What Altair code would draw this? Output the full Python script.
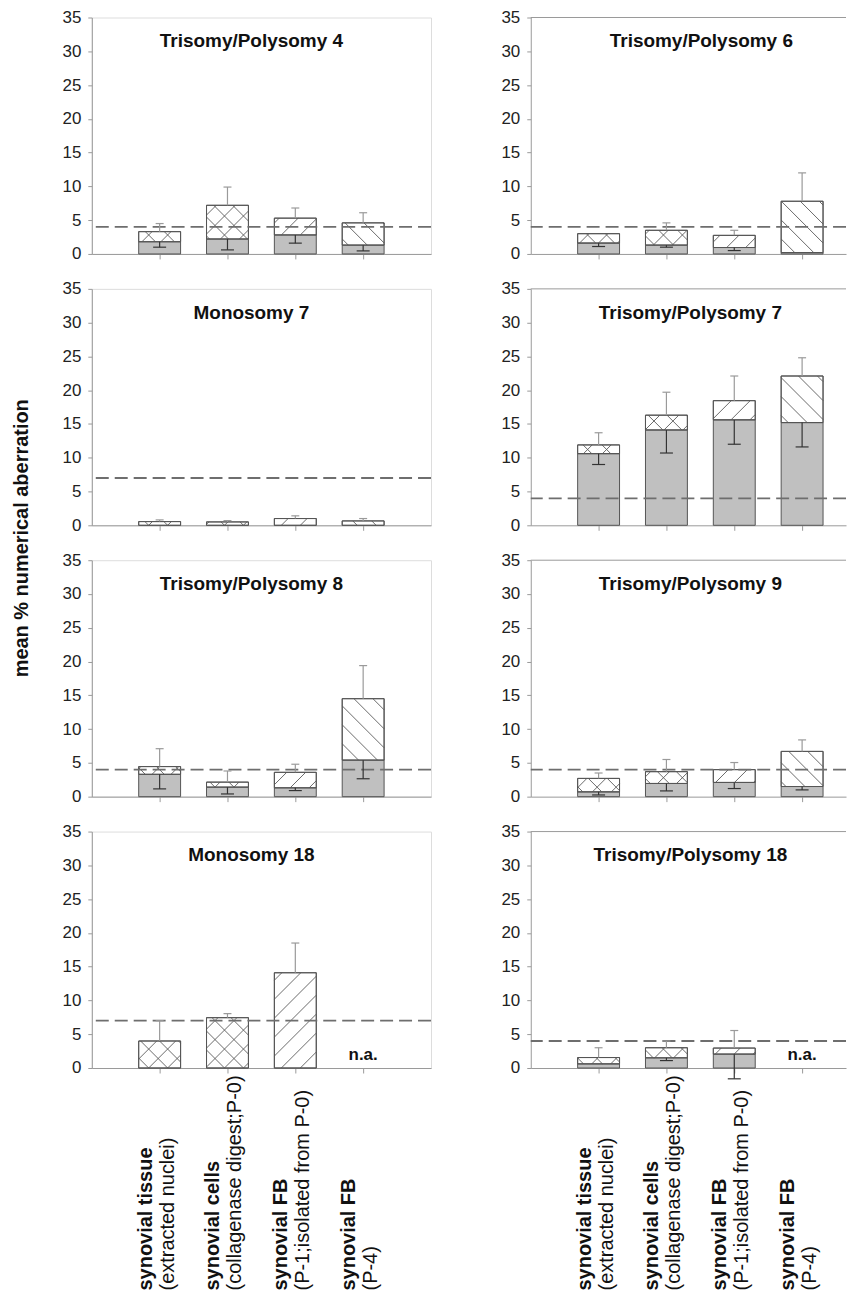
import altair as alt
import numpy as np
import pandas as pd

# ---------------- data ----------------
categories = ["synovial tissue", "synovial cells", "synovial FB", "synovial FB"]
sublabels = ["(extracted nuclei)", "(collagenase digest;P-0)", "(P-1;isolated from P-0)", "(P-4)"]
panel_titles = ["Trisomy/Polysomy 4", "Trisomy/Polysomy 6", "Monosomy 7", "Trisomy/Polysomy 7",
                "Trisomy/Polysomy 8", "Trisomy/Polysomy 9", "Monosomy 18", "Trisomy/Polysomy 18"]
thresholds = [4, 4, 7, 4, 4, 4, 7, 4]
# solid (grey) part of each bar
solid = [[1.8, 2.2, 2.8, 1.3], [1.6, 1.3, 0.95, 0.2], [0, 0, 0, 0], [10.6, 14.1, 15.6, 15.2],
         [3.3, 1.4, 1.3, 5.4], [0.7, 1.95, 2.1, 1.5], [0, 0, 0, None], [0.6, 1.5, 2.05, None]]
# lower end of the error bar of the grey part
solid_low = [[1.0, 0.6, 1.6, 0.45], [1.1, 1.0, 0.5, None], [None] * 4, [9.0, 10.7, 12.0, 11.6],
             [1.15, 0.4, 0.9, 2.65], [0.25, 0.85, 1.2, 1.0], [None] * 4, [None, 1.1, -1.6, None]]
# total (top of hatched part)
total = [[3.3, 7.2, 5.3, 4.6], [3.0, 3.5, 2.75, 7.8], [0.55, 0.5, 1.0, 0.65], [11.9, 16.3, 18.45, 22.1],
         [4.45, 2.15, 3.6, 14.5], [2.7, 3.7, 4.0, 6.7], [4.0, 7.45, 14.1, None], [1.55, 3.0, 2.95, None]]
# upper end of the error bar of the total
total_high = [[4.5, 9.9, 6.8, 6.1], [None, 4.6, 3.5, 12.0], [0.8, 0.7, 1.4, 1.0], [13.7, 19.7, 22.1, 24.8],
              [7.1, 3.8, 4.8, 19.4], [3.5, 5.5, 5.05, 8.4], [7.0, 8.05, 18.5, None], [3.0, 4.0, 5.55, None]]
hatch_kinds = ["x", "x", "/", "\\"]
y_ticks = [0, 5, 10, 15, 20, 25, 30, 35]
y_title = "mean % numerical aberration"

# ---------------- styling / geometry ----------------
H = 237
W_LEFT, W_RIGHT = 340, 316
SX = 68.0            # px per category unit
SY = H / 35.0        # px per percent
HALF = 21 / SX
CAP_UP = 4 / SX
CAP_LO = 6.5 / SX
PERIOD = 19.0
AX_GRAY = "#9a9a9a"
FONT = "Liberation Sans"
TITLE_X = [160, 171, 160, 160, 160, 160, 160, 160]
LABEL_Y = 460

xaxis = alt.Axis(values=[1, 2, 3, 4], labels=False, ticks=True, tickSize=5, title=None, grid=False,
                 domainColor=AX_GRAY, tickColor=AX_GRAY)
yaxis = alt.Axis(values=y_ticks, title=None, grid=False, tickSize=4, labelPadding=7, labelFontSize=17,
                 labelFont=FONT, labelColor="#222222", labelFlush=False, domainColor=AX_GRAY,
                 tickColor=AX_GRAY)


def X(f, xmax):
    return alt.X(f, type="quantitative", scale=alt.Scale(domain=[0, xmax], nice=False, zero=False), axis=xaxis)


def Y(f):
    return alt.Y(f, type="quantitative", scale=alt.Scale(domain=[0, 35], nice=False, zero=False), axis=yaxis)


def hatch_segments(x0, x1, y0, y1, kind):
    u0, u1, v0, v1 = x0 * SX, x1 * SX, y0 * SY, y1 * SY
    dirs = {"x": [1, -1], "/": [1], "\\": [-1]}[kind]
    segs = []
    for d in dirs:
        cs = [v0 - d * u0, v0 - d * u1, v1 - d * u0, v1 - d * u1]
        k0, k1 = int(np.floor(min(cs) / PERIOD)), int(np.ceil(max(cs) / PERIOD))
        for k in range(k0, k1 + 1):
            c = k * PERIOD
            if d == 1:
                ua, ub = v0 - c, v1 - c
            else:
                ua, ub = c - v1, c - v0
            lo, hi = max(u0, ua), min(u1, ub)
            if hi - lo > 0.6:
                segs.append(dict(hx1=lo / SX, hy1=(d * lo + c) / SY, hx2=hi / SX, hy2=(d * hi + c) / SY))
    return segs


def make_panel(i):
    col, row = i % 2, i // 2
    w = W_LEFT if col == 0 else W_RIGHT
    xmax = w / SX
    grey, white, hatch, up, low, na = [], [], [], [], [], []
    for j in range(4):
        pos = j + 1
        if total[i][j] is None:
            na.append(dict(pos=pos, t="n.a."))
            continue
        s, t = solid[i][j], total[i][j]
        if s > 0:
            grey.append(dict(xl=pos - HALF, xr=pos + HALF, y0=0.0, y1=s))
        white.append(dict(xl=pos - HALF, xr=pos + HALF, y0=s, y1=t))
        hatch.extend(hatch_segments(pos - HALF, pos + HALF, s, t, hatch_kinds[j]))
        if total_high[i][j] is not None:
            up.append(dict(pos=pos, a=t, b=total_high[i][j], cl=pos - CAP_UP, cr=pos + CAP_UP))
        if solid_low[i][j] is not None:
            low.append(dict(pos=pos, a=s, b=solid_low[i][j], cl=pos - CAP_LO, cr=pos + CAP_LO))

    layers = []
    wdf = pd.DataFrame(white)
    layers.append(alt.Chart(wdf).mark_rect(fill="white", stroke="#555555", strokeWidth=1).encode(
        x=X("xl", xmax), x2=alt.X2("xr"), y=Y("y0"), y2=alt.Y2("y1")))
    if grey:
        layers.append(alt.Chart(pd.DataFrame(grey)).mark_rect(fill="#c0c0c0", stroke="#555555", strokeWidth=1).encode(
            x=X("xl", xmax), x2=alt.X2("xr"), y=Y("y0"), y2=alt.Y2("y1")))
    if hatch:
        layers.append(alt.Chart(pd.DataFrame(hatch)).mark_rule(color="#5a5a5a", strokeWidth=0.9).encode(
            x=X("hx1", xmax), y=Y("hy1"), x2=alt.X2("hx2"), y2=alt.Y2("hy2")))
    layers.append(alt.Chart(wdf).mark_rect(fill="transparent", stroke="#555555", strokeWidth=1).encode(
        x=X("xl", xmax), x2=alt.X2("xr"), y=Y("y0"), y2=alt.Y2("y1")))
    layers.append(alt.Chart(pd.DataFrame({"thr": [thresholds[i]]})).mark_rule(
        color="#6e6e6e", strokeWidth=1.8, strokeDash=[13, 6]).encode(y=Y("thr")))
    if up:
        udf = pd.DataFrame(up)
        layers.append(alt.Chart(udf).mark_rule(color="#9a9a9a", strokeWidth=1.2).encode(
            x=X("pos", xmax), y=Y("a"), y2=alt.Y2("b")))
        layers.append(alt.Chart(udf).mark_rule(color="#9a9a9a", strokeWidth=1.2).encode(
            x=X("cl", xmax), x2=alt.X2("cr"), y=Y("b")))
    if low:
        ldf = pd.DataFrame(low)
        layers.append(alt.Chart(ldf).mark_rule(color="#333333", strokeWidth=1.2).encode(
            x=X("pos", xmax), y=Y("a"), y2=alt.Y2("b")))
        layers.append(alt.Chart(ldf).mark_rule(color="#333333", strokeWidth=1.2).encode(
            x=X("cl", xmax), x2=alt.X2("cr"), y=Y("b")))
    if col == 1:
        # top frame line only (the right edge of these panels is cut off in the original)
        layers.append(alt.Chart(pd.DataFrame({"top": [35]})).mark_rule(color=AX_GRAY, strokeWidth=1).encode(
            y=Y("top")))
    layers.append(alt.Chart(pd.DataFrame({"t": [panel_titles[i]]})).mark_text(
        font=FONT, fontSize=19, fontWeight="bold", align="center", baseline="alphabetic", color="#111111").encode(
        x=alt.value(TITLE_X[i]), y=alt.value(30), text="t:N"))
    if na:
        layers.append(alt.Chart(pd.DataFrame(na)).mark_text(
            font=FONT, fontSize=17, fontWeight="bold", align="center", baseline="alphabetic", color="#111111").encode(
            x=X("pos", xmax), y=alt.value(H - 8), text="t:N"))
    if row == 3:
        ldf2 = pd.DataFrame({"pos": [1, 2, 3, 4], "cat": categories, "sub": sublabels})
        layers.append(alt.Chart(ldf2).mark_text(
            font=FONT, fontSize=20, fontWeight="bold", angle=270, align="left", baseline="middle",
            dy=-14, color="#111111").encode(x=X("pos", xmax), y=alt.value(LABEL_Y), text="cat:N"))
        layers.append(alt.Chart(ldf2).mark_text(
            font=FONT, fontSize=20, angle=270, align="left", baseline="middle",
            dy=8, color="#111111").encode(x=X("pos", xmax), y=alt.value(LABEL_Y), text="sub:N"))
    p = alt.layer(*layers).properties(width=w, height=H)
    if col == 1:
        p = p.properties(view=alt.ViewBackground(stroke="transparent"))
    return p


VS = 35
left_col = alt.vconcat(*[make_panel(i) for i in (0, 2, 4, 6)], spacing=VS, bounds="flush")
right_col = alt.vconcat(*[make_panel(i) for i in (1, 3, 5, 7)], spacing=VS, bounds="flush")

ytitle = alt.Chart(pd.DataFrame({"t": [y_title]})).mark_text(
    font=FONT, fontSize=20, fontWeight="bold", angle=270, align="center", baseline="middle",
    color="#111111").encode(x=alt.value(13), y=alt.value(522), text="t:N").properties(
    width=24, height=H, view=alt.ViewBackground(stroke="transparent"))

chart = alt.hconcat(
    ytitle,
    alt.hconcat(left_col, right_col, spacing=67),
    spacing=27,
).properties(padding={"top": -2, "left": 0, "right": 0, "bottom": 0}).configure_view(
    stroke=AX_GRAY, strokeWidth=1).configure(background="white")

chart.save("out.html", embed_options={"renderer": "svg", "actions": False})
